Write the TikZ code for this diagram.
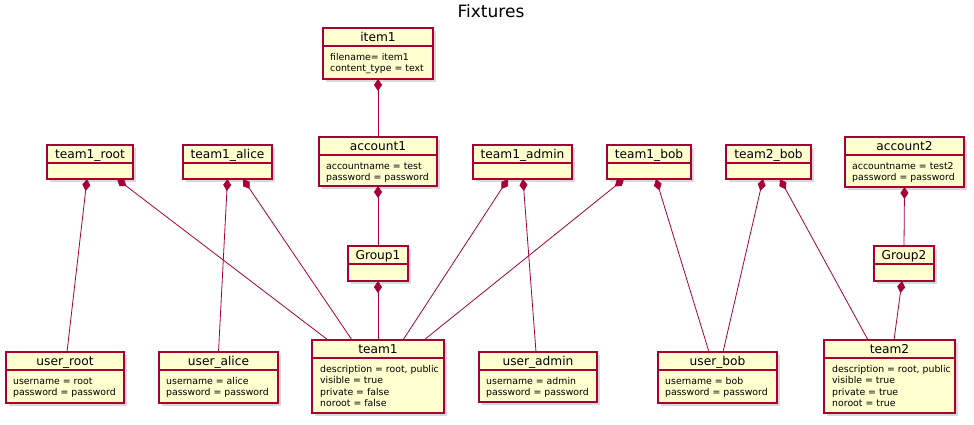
\documentclass[tikz,border=0pt]{standalone}
\usepackage{fontspec}
\setmainfont{DejaVu Sans}
\usetikzlibrary{arrows.meta,shadows}

\definecolor{umlred}{HTML}{A80036}
\definecolor{umlfill}{HTML}{FEFECE}
\newcommand{\attrlines}[1]{\begin{tabular}[t]{@{}l@{}}#1\end{tabular}}

\begin{document}
\begin{tikzpicture}[x=1pt, y=-1pt,
    objbox/.style={draw=umlred, line width=1.3pt, fill=umlfill, inner sep=0pt, outer sep=0pt,
        drop shadow={shadow xshift=3pt, shadow yshift=-3pt, opacity=0.3}},
    objtitle/.style={font=\fontsize{12.2}{14}\selectfont, inner sep=0pt, anchor=base},
    objattr/.style={font=\fontsize{9.35}{11.5}\selectfont, inner sep=0pt, anchor=base west},
    comp/.style={draw=umlred, line width=0.8pt, {Diamond[length=12pt, width=8pt, fill=umlred]}-}]

    \useasboundingbox (0,0) rectangle (974,424);

    \node[font=\fontsize{17}{20}\selectfont, anchor=base] (title) at (491,17) {Fixtures};

    % objects
    \foreach \n/\x/\y/\w/\h/\t in {
        item1/323/28/110/51/item1,
        account1/319/137/118/49/account1,
        account2/845/137/119/50/account2,
        team1_root/47/145/86/34/team1\_root,
        team1_alice/183/145/89/34/team1\_alice,
        team1_admin/473/145/99/34/team1\_admin,
        team1_bob/607/145/84/34/team1\_bob,
        team2_bob/726/145/85/34/team2\_bob,
        Group1/348/246/60/35/Group1,
        Group2/874/246/60/35/Group2,
        user_root/6/352/118/51/user\_root,
        user_alice/159/352/119/51/user\_alice,
        team1/312/340/132/73/team1,
        user_admin/479/352/118/50/user\_admin,
        user_bob/658/352/119/51/user\_bob,
        team2/824/340/131/73/team2}{
        \node[objbox, minimum width=\w, minimum height=\h, anchor=north west] (\n) at (\x,\y) {};
        \draw[umlred, line width=1.3pt] ([yshift=-18]\n.north west) -- ([yshift=-18]\n.north east);
        \node[objtitle] (\n-title) at ([yshift=-13.8]\n.north) {\t};
    }

    % fields
    \node[objattr] (item1-attr) at ([xshift=7, yshift=-32]item1.north west)
        {\attrlines{filename= item1\\content\_type = text}};
    \node[objattr] (account1-attr) at ([xshift=7, yshift=-32]account1.north west)
        {\attrlines{accountname = test\\password = password}};
    \node[objattr] (account2-attr) at ([xshift=7, yshift=-32]account2.north west)
        {\attrlines{accountname = test2\\password = password}};
    \node[objattr] (user_root-attr) at ([xshift=7, yshift=-32]user_root.north west)
        {\attrlines{username = root\\password = password}};
    \node[objattr] (user_alice-attr) at ([xshift=7, yshift=-32]user_alice.north west)
        {\attrlines{username = alice\\password = password}};
    \node[objattr] (user_admin-attr) at ([xshift=7, yshift=-32]user_admin.north west)
        {\attrlines{username = admin\\password = password}};
    \node[objattr] (user_bob-attr) at ([xshift=7, yshift=-32]user_bob.north west)
        {\attrlines{username = bob\\password = password}};
    \node[objattr] (team1-attr) at ([xshift=8, yshift=-32]team1.north west)
        {\attrlines{description = root, public\\visible = true\\private = false\\noroot = false}};
    \node[objattr] (team2-attr) at ([xshift=8, yshift=-32]team2.north west)
        {\attrlines{description = root, public\\visible = true\\private = true\\noroot = true}};

    % compositions
    \draw[comp] (item1.south) -- (account1.north);
    \draw[comp] (account1.south) -- (Group1.north);
    \draw[comp] (Group1.south) -- (team1.north);
    \draw[comp] (account2.south) -- (Group2.north);
    \draw[comp] ([xshift=-2]Group2.south) -- ([xshift=4.5]team2.north);
    \draw[comp] ([xshift=-3]team1_root.south) -- ([xshift=2]user_root.north);
    \draw[comp] ([xshift=27]team1_root.south) -- ([xshift=-50]team1.north);
    \draw[comp] (team1_alice.south) -- (user_alice.north);
    \draw[comp] ([xshift=15.5]team1_alice.south) -- ([xshift=-26]team1.north);
    \draw[comp] ([xshift=-14.5]team1_admin.south) -- ([xshift=25]team1.north);
    \draw[comp] ([xshift=0.5]team1_admin.south) -- ([xshift=-2]user_admin.north);
    \draw[comp] ([xshift=-25]team1_bob.south) -- ([xshift=46]team1.north);
    \draw[comp] ([xshift=7]team1_bob.south) -- ([xshift=-8.5]user_bob.north);
    \draw[comp] ([xshift=-5.5]team2_bob.south) -- ([xshift=5.5]user_bob.north);
    \draw[comp] ([xshift=11.5]team2_bob.south) -- ([xshift=-21.5]team2.north);
\end{tikzpicture}
\end{document}
